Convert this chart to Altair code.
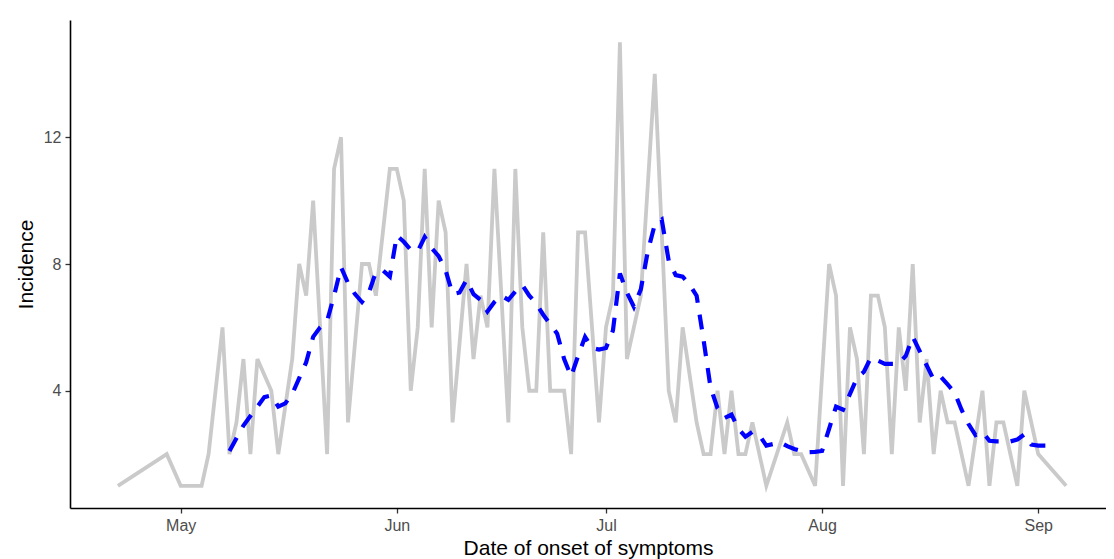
import altair as alt
import pandas as pd

# Daily incidence (grey line) - days with no cases are absent
grey_dates = [
    "2020-04-22", "2020-04-29", "2020-05-01", "2020-05-04", "2020-05-05", "2020-05-07",
    "2020-05-08", "2020-05-09", "2020-05-10", "2020-05-11", "2020-05-12", "2020-05-14",
    "2020-05-15", "2020-05-17", "2020-05-18", "2020-05-19", "2020-05-20", "2020-05-22",
    "2020-05-23", "2020-05-24", "2020-05-25", "2020-05-27", "2020-05-28", "2020-05-29",
    "2020-05-31", "2020-06-01", "2020-06-02", "2020-06-03", "2020-06-04", "2020-06-05",
    "2020-06-06", "2020-06-07", "2020-06-08", "2020-06-09", "2020-06-11", "2020-06-12",
    "2020-06-13", "2020-06-14", "2020-06-15", "2020-06-17", "2020-06-18", "2020-06-19",
    "2020-06-20", "2020-06-21", "2020-06-22", "2020-06-23", "2020-06-25", "2020-06-26",
    "2020-06-27", "2020-06-28", "2020-06-30", "2020-07-01", "2020-07-02", "2020-07-03",
    "2020-07-04", "2020-07-05", "2020-07-06", "2020-07-08", "2020-07-10", "2020-07-11",
    "2020-07-12", "2020-07-14", "2020-07-15", "2020-07-16", "2020-07-17", "2020-07-18",
    "2020-07-19", "2020-07-20", "2020-07-21", "2020-07-22", "2020-07-24", "2020-07-27",
    "2020-07-28", "2020-07-29", "2020-07-31", "2020-08-02", "2020-08-03", "2020-08-04",
    "2020-08-05", "2020-08-06", "2020-08-07", "2020-08-08", "2020-08-09", "2020-08-10",
    "2020-08-11", "2020-08-12", "2020-08-13", "2020-08-14", "2020-08-15", "2020-08-16",
    "2020-08-17", "2020-08-18", "2020-08-19", "2020-08-20", "2020-08-22", "2020-08-24",
    "2020-08-25", "2020-08-26", "2020-08-27", "2020-08-29", "2020-08-30", "2020-09-01",
    "2020-09-05",
]
grey_values = [
    1, 2, 1, 1, 2, 6,
    2, 3, 5, 2, 5, 4,
    2, 5, 8, 7, 10, 2,
    11, 12, 3, 8, 8, 7,
    11, 11, 10, 4, 6, 11,
    6, 10, 9, 3, 8, 5,
    7, 6, 11, 3, 11, 6,
    4, 4, 9, 4, 4, 2,
    9, 9, 3, 6, 7, 15,
    5, 6, 7, 14, 4, 3,
    6, 3, 2, 2, 4, 2,
    4, 2, 2, 3, 1, 3,
    2, 2, 1, 8, 7, 1,
    6, 5, 2, 7, 7, 6,
    2, 6, 4, 8, 3, 5,
    2, 4, 3, 3, 1, 4,
    1, 3, 3, 1, 4, 2,
    1,
]

# Rolling average (blue dashed line), one value per day from 8 May to 3 Sep
avg_start = "2020-05-08"
avg_may = [2.1, 2.5, 2.9, 3.2, 3.5, 3.8, 3.85, 3.5, 3.6, 3.9, 4.4, 4.9, 5.7, 6.0,
           6.2, 7.0, 7.9, 7.4, 7.05, 6.8, 7.1, 7.75, 7.8, 7.6]
avg_jun = [8.9, 8.7, 8.45, 8.4, 8.85, 8.5, 8.25, 7.8, 7.05, 7.1, 7.5, 7.05, 6.87, 6.5,
           6.8, 7.0, 6.87, 7.13, 7.34, 7.0, 6.75, 6.4, 6.1, 5.8, 5.0, 4.45, 5.1, 5.7,
           5.35, 5.3]
avg_jul = [5.35, 5.9, 7.7, 7.1, 6.65, 7.2, 8.4, 9.25, 9.4, 8.1, 7.65, 7.6, 7.35, 7.0,
           5.6, 4.1, 3.45, 3.14, 3.25, 2.8, 2.55, 2.7, 2.6, 2.27, 2.32, 2.37, 2.25, 2.16,
           2.1, 2.06, 2.07]
avg_aug = [2.1, 2.8, 3.5, 3.4, 3.9, 4.4, 4.6, 5.05, 4.95, 4.85, 4.85, 4.85, 5.1, 5.7,
           5.25, 4.8, 4.35, 4.45, 4.2, 3.95, 3.4, 2.95, 2.6, 2.7, 2.42, 2.4, 2.4, 2.4,
           2.46, 2.62, 2.3]
avg_sep = [2.27, 2.27, 2.27]
avg_values = avg_may + avg_jun + avg_jul + avg_aug + avg_sep

month_ticks = [5, 6, 7, 8, 9]
y_ticks = [4, 8, 12]

df_grey = pd.DataFrame({"date": grey_dates, "incidence": grey_values})
df_avg = pd.DataFrame({
    "date": pd.date_range(avg_start, periods=len(avg_values), freq="D").strftime("%Y-%m-%d"),
    "avg": avg_values,
})

FONT = "Liberation Sans"

x_scale = alt.Scale(
    type="utc",
    domain=[
        alt.DateTime(year=2020, month=4, date=15, hours=3, utc=True),
        alt.DateTime(year=2020, month=9, date=10, hours=17, minutes=15, utc=True),
    ],
)
y_scale = alt.Scale(domain=[0.3, 15.7], nice=False, zero=False)

x_axis = alt.Axis(
    title="Date of onset of symptoms",
    labelExpr="utcFormat(datum.value, '%b')",
    values=[alt.DateTime(year=2020, month=m, date=1, utc=True) for m in month_ticks],
    grid=False,
    titleY=46,
    titleBaseline="alphabetic",
)
y_axis = alt.Axis(
    title="Incidence",
    values=y_ticks,
    grid=False,
    titleX=-38,
    titleY=244,
    titleAngle=-90,
    titleAlign="center",
    titleBaseline="alphabetic",
)

grey = alt.Chart(df_grey).mark_line(color="#CACACA", strokeWidth=3.8).encode(
    x=alt.X("date:T", scale=x_scale, axis=x_axis),
    y=alt.Y("incidence:Q", scale=y_scale, axis=y_axis),
)

blue = alt.Chart(df_avg).mark_line(
    color="#0000FF", strokeWidth=4.2, strokeDash=[15, 12]
).encode(
    x=alt.X("date:T", scale=x_scale),
    y=alt.Y("avg:Q", scale=y_scale),
)

chart = (
    alt.layer(grey, blue)
    .properties(
        width=1036,
        height=488,
        padding={"left": 62, "top": 12, "right": 0, "bottom": 51},
        autosize="none",
        background="white",
    )
    .configure_view(stroke=None)
    .configure_axis(
        domainColor="black",
        domainWidth=1.6,
        tickColor="#333333",
        tickSize=5,
        tickWidth=1.3,
        labelFont=FONT,
        labelFontSize=16,
        labelColor="#4D4D4D",
        labelPadding=4,
        titleFont=FONT,
        titleFontSize=21,
        titleFontWeight="normal",
        titleColor="black",
    )
)

chart.save("out.html", embed_options={"renderer": "svg", "actions": False})
